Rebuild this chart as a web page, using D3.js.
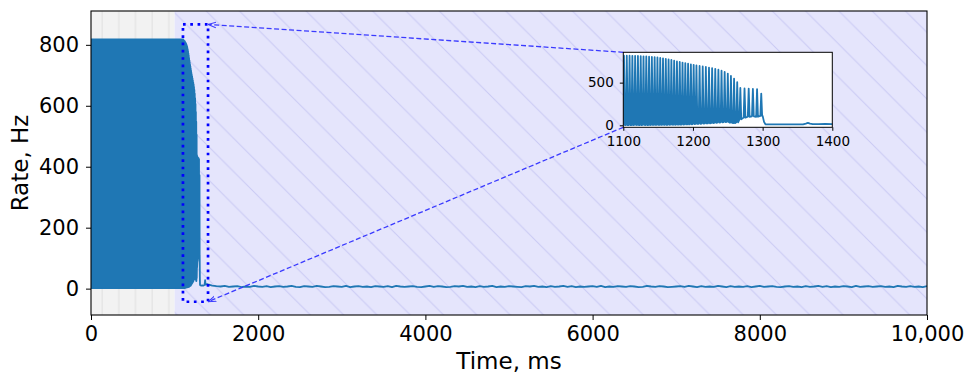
<!DOCTYPE html>
<html>
<head>
<meta charset="utf-8">
<script src="https://cdn.jsdelivr.net/npm/d3@7"></script>
<style>
  body { margin: 0; background: #fff; }
  svg { display: block; }
  svg text { font-family: "DejaVu Sans", sans-serif; }
  .axis path, .axis line { stroke: #000; }
  .axis text { fill: #000; font-family: "DejaVu Sans", sans-serif; }
</style>
</head>
<body>
<svg id="chart" width="966" height="374"></svg>
<script>
// ---- data ----
const xTicks = [0, 2000, 4000, 6000, 8000, 10000];
const xTickLabels = ['0', '2000', '4000', '6000', '8000', '10,000'];
const yTicks = [0, 200, 400, 600, 800];
const insetXTicks = [1100, 1200, 1300, 1400];
const insetYTicks = [0, 500];

// shaded periods (ms)
const stimOff = [0, 1000];
const stimOn = [1000, 10000];

// zoom window shown in the inset
const zoomX = [1100, 1400];
const zoomY = [-43, 867];

// before 1100 ms the rate swings 0..~820 Hz too fast to resolve
const earlyTimes = [0, 1099];
const earlyLow = [2, 2];
const earlyHigh = [818, 818];

// individual cycles 1100..1300 ms (peak time, peak rate, trough rate)
const peakTimes = [1101, 1105, 1109, 1113, 1117, 1121, 1125, 1129, 1133, 1137,
  1141, 1145, 1149, 1153, 1157, 1161, 1165, 1169, 1173, 1177,
  1181, 1185, 1189, 1193, 1197, 1201, 1205, 1209.5, 1214, 1218.5,
  1223, 1227.5, 1232, 1236.5, 1241, 1245.5, 1250, 1254.5, 1259, 1263.5,
  1268, 1274, 1280, 1286, 1292, 1298];
const peakRates = [816, 815, 815, 814, 813, 812, 810, 808, 806, 804,
  801, 798, 795, 790, 785, 779, 772, 765, 757, 749,
  742, 735, 729, 722, 715, 708, 702, 696, 690, 683,
  676, 670, 662, 652, 640, 625, 606, 580, 548, 505,
  438, 432, 430, 428, 425, 372];
const troughRates = [3, 2, 3, 2, 4, 3, 2, 4, 3, 3,
  4, 5, 4, 5, 6, 5, 6, 7, 6, 8,
  8, 9, 10, 10, 12, 14, 16, 18, 20, 22,
  24, 27, 30, 32, 35, 38, 40, 30, 25, 35,
  70, 90, 100, 105, 100, 110];

// after the last burst
const tailTimes = [1300, 1302, 1304, 1310, 1320, 1330, 1340, 1350, 1358, 1362,
  1365, 1368, 1372, 1380, 1390, 1400];
const tailRates = [110, 40, 12, 11, 10, 11, 10, 11, 12, 20,
  28, 19, 13, 14, 15, 14];

// residual activity, sampled every 50 ms from 1450 to 10000 ms
const restStart = 1450;
const restStep = 50;
const restRates = [
  10, 8, 7, 9, 6, 7, 8, 5, 7, 6, 9, 7, 6, 8, 5, 7, 8, 6, 7, 9,
  6, 5, 8, 7, 6, 9, 7, 5, 6, 8, 7, 6, 9, 5, 7, 8, 6, 7, 5, 8,
  7, 6, 8, 5, 9, 7, 6, 7, 8, 6, 5, 7, 9, 6, 8, 7, 5, 6, 8, 7,
  9, 6, 7, 5, 8, 6, 7, 9, 5, 7, 6, 8, 7, 6, 5, 8, 7, 9, 6, 7,
  5, 8, 6, 7, 9, 6, 8, 5, 7, 6, 7, 8, 6, 9, 5, 7, 6, 8, 7, 6,
  8, 7, 5, 6, 9, 7, 6, 8, 7, 5, 6, 7, 8, 6, 9, 7, 5, 8, 6, 7,
  6, 9, 7, 5, 8, 6, 7, 6, 8, 5, 7, 9, 6, 7, 8, 6, 5, 7, 8, 6,
  7, 5, 8, 6, 7, 9, 6, 8, 5, 7, 6, 8, 7, 5, 9, 6, 7, 8, 6, 7,
  8, 6, 7, 5, 9, 7, 6, 8, 6, 7, 5, 8];

// ---- build the trace ----
const halfWidth = 1.3; // ms either side of a peak
const points = [];
peakTimes.forEach((t, i) => {
  points.push([t - halfWidth, troughRates[i]]);
  points.push([t, peakRates[i]]);
  points.push([t + halfWidth, troughRates[i]]);
});
tailTimes.forEach((t, i) => points.push([t, tailRates[i]]));
restRates.forEach((r, i) => points.push([restStart + i * restStep, r]));

// ---- layout ----
const svg = d3.select('#chart');
const main = { left: 91, right: 927, top: 11, bottom: 315 };
const inset = { left: 623.3, right: 832.3, top: 52.3, bottom: 127.3 };
const lineColor = '#1f77b4';
const fontFamily = '"DejaVu Sans", sans-serif';

const x = d3.scaleLinear().domain([0, 10000]).range([main.left, main.right]);
const y = d3.scaleLinear().domain([-86.5, 911]).range([main.bottom, main.top]);
const xi = d3.scaleLinear().domain(zoomX).range([inset.left, inset.right]);
const yi = d3.scaleLinear().domain([-23.4, 855.5]).range([inset.bottom, inset.top]);

const defs = svg.append('defs');

defs.append('clipPath').attr('id', 'clip-main')
  .append('rect')
  .attr('x', main.left).attr('y', main.top)
  .attr('width', main.right - main.left).attr('height', main.bottom - main.top);

defs.append('clipPath').attr('id', 'clip-inset')
  .append('rect')
  .attr('x', inset.left).attr('y', inset.top)
  .attr('width', inset.right - inset.left).attr('height', inset.bottom - inset.top);

// vertical hatch for the gray period
const vHatch = defs.append('pattern')
  .attr('id', 'hatch-v')
  .attr('patternUnits', 'userSpaceOnUse')
  .attr('width', 16.67).attr('height', 10);
vHatch.append('rect').attr('width', 16.67).attr('height', 10).attr('fill', '#f2f2f2');
vHatch.append('line')
  .attr('x1', 2.1).attr('x2', 2.1).attr('y1', 0).attr('y2', 10)
  .attr('stroke', '#e0e0e0').attr('stroke-width', 1);

// diagonal hatch for the lavender period
const s = 33.3;
const dHatch = defs.append('pattern')
  .attr('id', 'hatch-d')
  .attr('patternUnits', 'userSpaceOnUse')
  .attr('width', s).attr('height', s)
  .attr('patternTransform', 'translate(28.7,0)');
dHatch.append('rect').attr('width', s).attr('height', s).attr('fill', '#e5e5fc');
dHatch.append('path')
  .attr('d', `M0,0 L${s},${s} M-5,${s - 5} L5,${s + 5} M${s - 5},-5 L${s + 5},5`)
  .attr('stroke', '#cacaf4').attr('stroke-width', 1);

// arrow head for the connector lines
defs.append('marker')
  .attr('id', 'arrow')
  .attr('viewBox', '0 -5 10 10')
  .attr('refX', 10).attr('refY', 0)
  .attr('markerUnits', 'userSpaceOnUse')
  .attr('markerWidth', 8).attr('markerHeight', 8)
  .attr('orient', 'auto')
  .append('path')
  .attr('d', 'M0,-3.5 L10,0 L0,3.5')
  .attr('fill', 'none')
  .attr('stroke', '#3a3aff')
  .attr('stroke-width', 1.3);

// ---- main axes ----
const plot = svg.append('g').attr('clip-path', 'url(#clip-main)');

plot.append('rect')
  .attr('x', x(stimOff[0])).attr('y', main.top)
  .attr('width', x(stimOff[1]) - x(stimOff[0])).attr('height', main.bottom - main.top)
  .attr('fill', 'url(#hatch-v)');

plot.append('rect')
  .attr('x', x(stimOn[0])).attr('y', main.top)
  .attr('width', x(stimOn[1]) - x(stimOn[0])).attr('height', main.bottom - main.top)
  .attr('fill', 'url(#hatch-d)');

// unresolved early oscillation
plot.append('path')
  .datum(earlyTimes.map((t, i) => [t, earlyLow[i], earlyHigh[i]]))
  .attr('d', d3.area().x(d => x(d[0])).y0(d => y(d[1])).y1(d => y(d[2])))
  .attr('fill', lineColor)
  .attr('stroke', lineColor)
  .attr('stroke-width', 1.8);

const line = d3.line().x(d => x(d[0])).y(d => y(d[1]));
plot.append('path')
  .datum(points)
  .attr('d', line)
  .attr('fill', 'none')
  .attr('stroke', lineColor)
  .attr('stroke-width', 1.8)
  .attr('stroke-linejoin', 'round');

// zoom box
svg.append('rect')
  .attr('x', x(zoomX[0])).attr('y', y(zoomY[1]))
  .attr('width', x(zoomX[1]) - x(zoomX[0]))
  .attr('height', y(zoomY[0]) - y(zoomY[1]))
  .attr('fill', 'none')
  .attr('stroke', '#0000ff')
  .attr('stroke-width', 2.7)
  .attr('stroke-dasharray', '2.7,4.6');

// connectors from inset corners to the zoom box
const connectors = [
  [inset.left, inset.top, x(zoomX[1]), y(zoomY[1])],
  [inset.left, inset.bottom, x(zoomX[1]), y(zoomY[0])]
];
svg.selectAll('.connector')
  .data(connectors)
  .enter().append('line')
  .attr('class', 'connector')
  .attr('x1', d => d[0]).attr('y1', d => d[1])
  .attr('x2', d => d[2]).attr('y2', d => d[3])
  .attr('stroke', '#3a3aff')
  .attr('stroke-width', 1.3)
  .attr('stroke-dasharray', '5,2.5')
  .attr('marker-end', 'url(#arrow)');

// frame
svg.append('rect')
  .attr('x', main.left).attr('y', main.top)
  .attr('width', main.right - main.left).attr('height', main.bottom - main.top)
  .attr('fill', 'none').attr('stroke', '#000').attr('stroke-width', 1.1);

svg.append('g')
  .attr('class', 'axis')
  .attr('transform', `translate(0,${main.bottom})`)
  .call(d3.axisBottom(x).tickValues(xTicks)
    .tickFormat((d, i) => xTickLabels[i])
    .tickSize(5).tickPadding(6).tickSizeOuter(0))
  .call(g => g.select('.domain').remove())
  .attr('font-family', fontFamily)
  .attr('font-size', 21);

svg.append('g')
  .attr('class', 'axis')
  .attr('transform', `translate(${main.left},0)`)
  .call(d3.axisLeft(y).tickValues(yTicks)
    .tickSize(5).tickPadding(7).tickSizeOuter(0))
  .call(g => g.select('.domain').remove())
  .attr('font-family', fontFamily)
  .attr('font-size', 21);

svg.append('text')
  .attr('x', (main.left + main.right) / 2)
  .attr('y', 369)
  .attr('text-anchor', 'middle')
  .attr('font-family', fontFamily)
  .attr('font-size', 23)
  .text('Time, ms');

svg.append('text')
  .attr('transform', `translate(28,${(main.top + main.bottom) / 2}) rotate(-90)`)
  .attr('text-anchor', 'middle')
  .attr('font-family', fontFamily)
  .attr('font-size', 23)
  .text('Rate, Hz');

// ---- inset ----
svg.append('rect')
  .attr('x', inset.left).attr('y', inset.top)
  .attr('width', inset.right - inset.left).attr('height', inset.bottom - inset.top)
  .attr('fill', '#fff');

svg.append('g').attr('clip-path', 'url(#clip-inset)')
  .append('path')
  .datum(points)
  .attr('d', d3.line().x(d => xi(d[0])).y(d => yi(d[1])))
  .attr('fill', 'none')
  .attr('stroke', lineColor)
  .attr('stroke-width', 1.8)
  .attr('stroke-linejoin', 'round');

svg.append('rect')
  .attr('x', inset.left).attr('y', inset.top)
  .attr('width', inset.right - inset.left).attr('height', inset.bottom - inset.top)
  .attr('fill', 'none').attr('stroke', '#000').attr('stroke-width', 1);

svg.append('g')
  .attr('class', 'axis')
  .attr('transform', `translate(0,${inset.bottom})`)
  .call(d3.axisBottom(xi).tickValues(insetXTicks).tickFormat(d3.format('d'))
    .tickSize(3.5).tickPadding(6).tickSizeOuter(0))
  .call(g => g.select('.domain').remove())
  .attr('font-family', fontFamily)
  .attr('font-size', 13.5);

svg.append('g')
  .attr('class', 'axis')
  .attr('transform', `translate(${inset.left},0)`)
  .call(d3.axisLeft(yi).tickValues(insetYTicks)
    .tickSize(3.5).tickPadding(6).tickSizeOuter(0))
  .call(g => g.select('.domain').remove())
  .attr('font-family', fontFamily)
  .attr('font-size', 13.5);
</script>
</body>
</html>
